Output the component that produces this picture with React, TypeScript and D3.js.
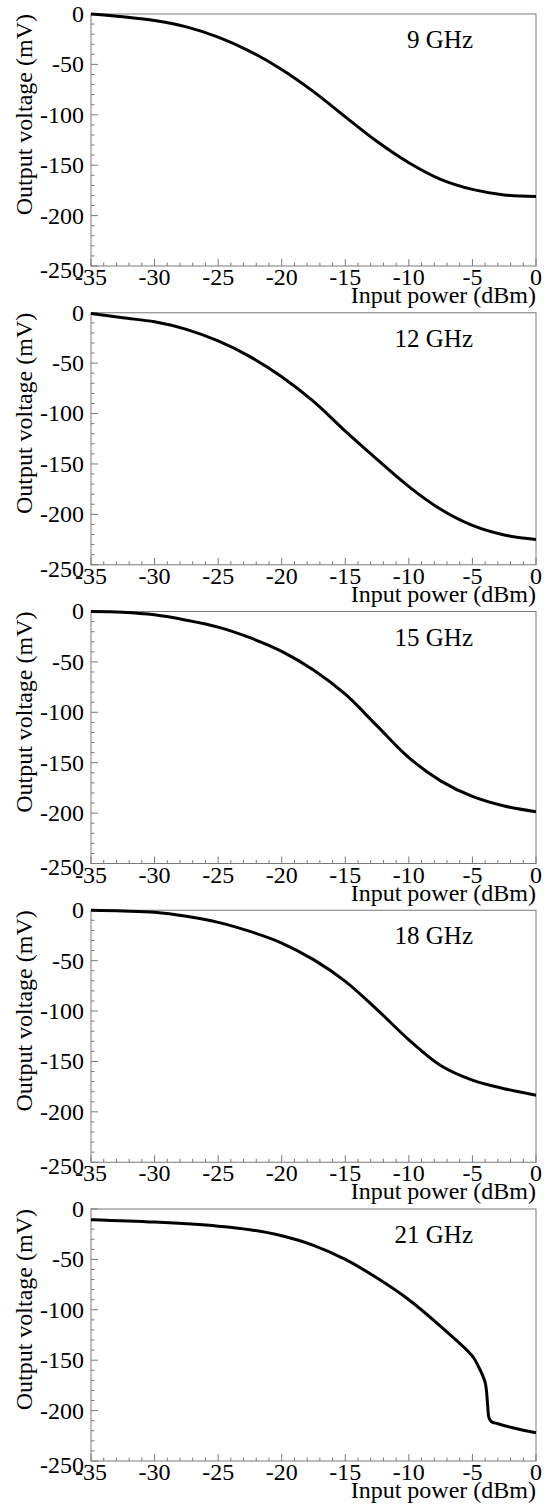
import React from "react";
import * as d3 from "d3";

// Detector response: output voltage (mV) vs input power (dBm) at several frequencies
const powerTicks = [-35, -30, -25, -20, -15, -10, -5, 0];
const voltageTicks = [0, -50, -100, -150, -200, -250];

const freq9 = [
  [-35, 0], [-32.5, -2.8], [-30, -6.5], [-27.5, -12.8], [-25, -23], [-22.5, -37],
  [-20, -55], [-17.5, -77], [-15, -102], [-12.5, -126.5], [-10, -147.5], [-7.5, -164],
  [-5, -174], [-2.5, -179.5], [0, -181],
];
const freq12 = [
  [-35, -0.7], [-32.5, -5], [-30, -9], [-27.5, -16.5], [-25, -28], [-22.5, -43.5],
  [-20, -63.5], [-17.5, -88], [-15, -117.5], [-12.5, -145.5], [-10, -172.5], [-7.5, -195],
  [-5, -211], [-2.5, -220.5], [0, -225],
];
const freq15 = [
  [-35, 0], [-32.5, -0.7], [-30, -3.3], [-27.5, -8.6], [-25, -15.5], [-22.5, -26],
  [-20, -39.5], [-17.5, -58], [-15, -82], [-12.5, -113.5], [-10, -145], [-7.5, -168],
  [-5, -183.5], [-2.5, -193], [0, -198.7],
];
const freq18 = [
  [-35, 0], [-32.5, -0.7], [-30, -2], [-27.5, -6], [-25, -12], [-22.5, -21],
  [-20, -32.5], [-17.5, -49], [-15, -70.5], [-12.5, -98.5], [-10, -128.5], [-7.5, -154],
  [-5, -168.5], [-2.5, -177], [0, -183.5],
];
const freq21 = [
  [-35, -10.6], [-30, -13], [-25, -17], [-22.5, -20.5], [-20, -26.5], [-17.5, -36],
  [-15, -50], [-12.5, -68.5], [-10, -90], [-7.5, -116.5], [-5, -146], [-4.5, -157],
  [-4.2, -165], [-4.0, -172], [-3.9, -180], [-3.8, -195], [-3.7, -207], [-3.5, -211],
  [-3, -213], [-2, -216.5], [-1, -219.5], [0, -222],
];

const panels = [
  { label: "9 GHz", data: freq9 },
  { label: "12 GHz", data: freq12 },
  { label: "15 GHz", data: freq15 },
  { label: "18 GHz", data: freq18 },
  { label: "21 GHz", data: freq21 },
];

const W = 544;
const H = 1508;
const LEFT = 91;
const RIGHT = 536;
const FIRST_TOP = 14;
const STEP = 298.75;
const PLOT_H = 252;
const AXIS = "#7a7a7a";
const serif = { fontFamily: "'Liberation Serif', 'Times New Roman', Times, serif" };

function Panel({ top, label, data }: { top: number; label: string; data: number[][] }) {
  const x = d3.scaleLinear().domain([-35, 0]).range([LEFT, RIGHT]);
  const y = d3.scaleLinear().domain([0, -250]).range([top, top + PLOT_H]);
  const line = d3
    .line<number[]>()
    .x((d) => x(d[0]))
    .y((d) => y(d[1]))
    .curve(d3.curveCatmullRom.alpha(0.5));
  const bottom = top + PLOT_H;
  const xMinor = d3.range(-35, 0.001, 1);
  const yMinor = d3.range(0, -250.001, -10);

  return (
    <g>
      <rect x={LEFT} y={top} width={RIGHT - LEFT} height={PLOT_H} fill="none" stroke={AXIS} strokeWidth={1} />
      {xMinor.map((v) => {
        const major = v % 5 === 0;
        return (
          <line key={"xm" + v} x1={x(v)} x2={x(v)} y1={bottom} y2={bottom - (major ? 7 : 3.5)} stroke={AXIS} strokeWidth={1} />
        );
      })}
      {yMinor.map((v) => {
        const major = v % 50 === 0;
        return (
          <line key={"ym" + v} x1={LEFT} x2={LEFT + (major ? 7 : 3.5)} y1={y(v)} y2={y(v)} stroke={AXIS} strokeWidth={1} />
        );
      })}
      {powerTicks.map((v) => (
        <text key={"xl" + v} x={x(v)} y={bottom + 19} textAnchor="middle" fontSize={24} style={serif} fill="#000">
          {v}
        </text>
      ))}
      {voltageTicks.map((v) => (
        <text key={"yl" + v} x={LEFT - 7} y={y(v) + (v === -250 ? 4 : 0)} dy="0.33em" textAnchor="end" fontSize={24} style={serif} fill="#000">
          {v}
        </text>
      ))}
      <text x={RIGHT} y={bottom + 37} textAnchor="end" fontSize={24} style={serif} fill="#000">
        Input power (dBm)
      </text>
      <text
        transform={`translate(32, ${top}) rotate(-90)`}
        textAnchor="end"
        fontSize={24}
        style={serif}
        fill="#000"
      >
        Output voltage (mV)
      </text>
      <text x={473} y={top + 34} textAnchor="end" fontSize={25} style={serif} fill="#000">
        {label}
      </text>
      <path d={line(data) ?? ""} fill="none" stroke="#000" strokeWidth={3} strokeLinejoin="round" />
    </g>
  );
}

export default function App() {
  return (
    <svg
      width={W}
      height={H}
      viewBox={`0 0 ${W} ${H}`}
      style={{ position: "absolute", left: 0, top: 0, background: "#fff" }}
    >
      <rect width={W} height={H} fill="#fff" />
      {panels.map((p, i) => (
        <Panel key={p.label} top={FIRST_TOP + STEP * i} label={p.label} data={p.data} />
      ))}
    </svg>
  );
}
